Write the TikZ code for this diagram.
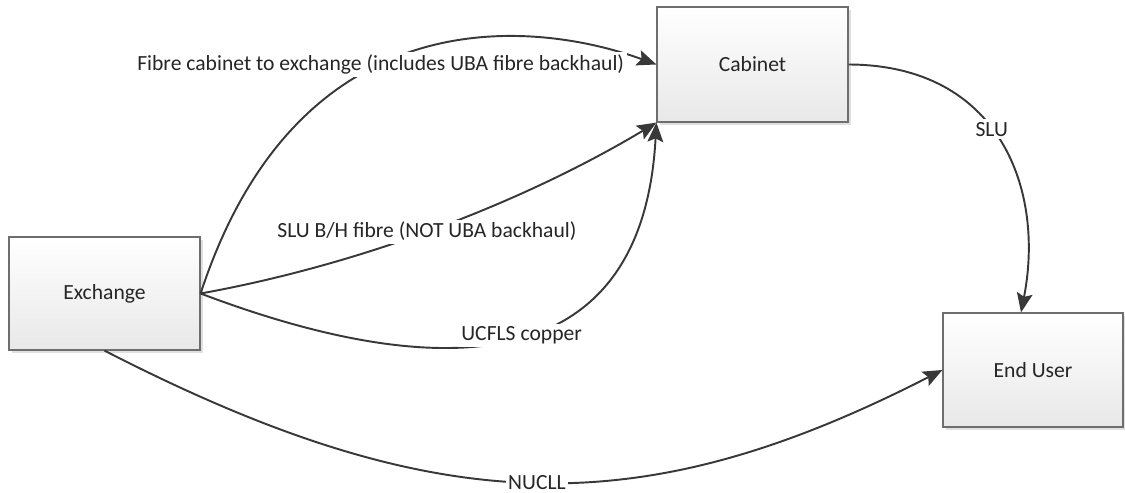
\documentclass[tikz,border=0pt]{standalone}
\usepackage{fontspec}
\setmainfont{Carlito}
\usetikzlibrary{arrows.meta,shadows}

\definecolor{boxline}{HTML}{6E6E6E}
\definecolor{linkcol}{HTML}{383838}

\begin{document}
\begin{tikzpicture}[x=0.02cm,y=-0.02cm,
    font=\fontsize{12.3}{14}\selectfont,
    box/.style={draw=boxline, line width=0.7pt, top color=white, bottom color=black!9,
      drop shadow={shadow xshift=1.6pt, shadow yshift=-1.6pt, fill=black!30, opacity=0.4},
      minimum width=3.82cm, minimum height=2.26cm, text=black!85},
    link/.style={draw=linkcol, line width=1.1pt, -{Stealth[length=11pt,width=9pt,inset=2pt]}},
    lbl/.style={fill=white, inner sep=1.5pt, text=black!85}]
  \useasboundingbox (0,0) rectangle (1125,493);

  \node[box] (exch) at (104.5,293.5) {Exchange};
  \node[box, minimum height=2.3cm] (cab) at (752.5,64.5) {Cabinet};
  \node[box, minimum width=3.6cm, minimum height=2.28cm] (user) at (1033,370) {End User};

  % exchange to cabinet
  \draw[link] (exch.east) .. controls (300,-10) and (540,22) .. (cab.west)
    node[lbl, pos=0.42] {Fibre cabinet to exchange (includes UBA fibre backhaul)};
  \draw[link] (exch.east) .. controls (357.6,265.2) and (519.9,204.4) .. (cab.south west)
    node[lbl, pos=0.48] {SLU B/H fibre (NOT UBA backhaul)};
  \draw[link] (exch.east) .. controls (350,350) and (640,430) .. (cab.south west)
    node[lbl, pos=0.58] {UCFLS copper};

  % to end user
  \draw[link] (cab.east) .. controls (1000,65) and (1045,190) .. ([xshift=-0.24cm]user.north)
    node[lbl, pos=0.45] {SLU};
  \draw[link] (exch.south) .. controls (440,523) and (643,523) .. (user.west)
    node[lbl, pos=0.5] {NUCLL};
\end{tikzpicture}
\end{document}
